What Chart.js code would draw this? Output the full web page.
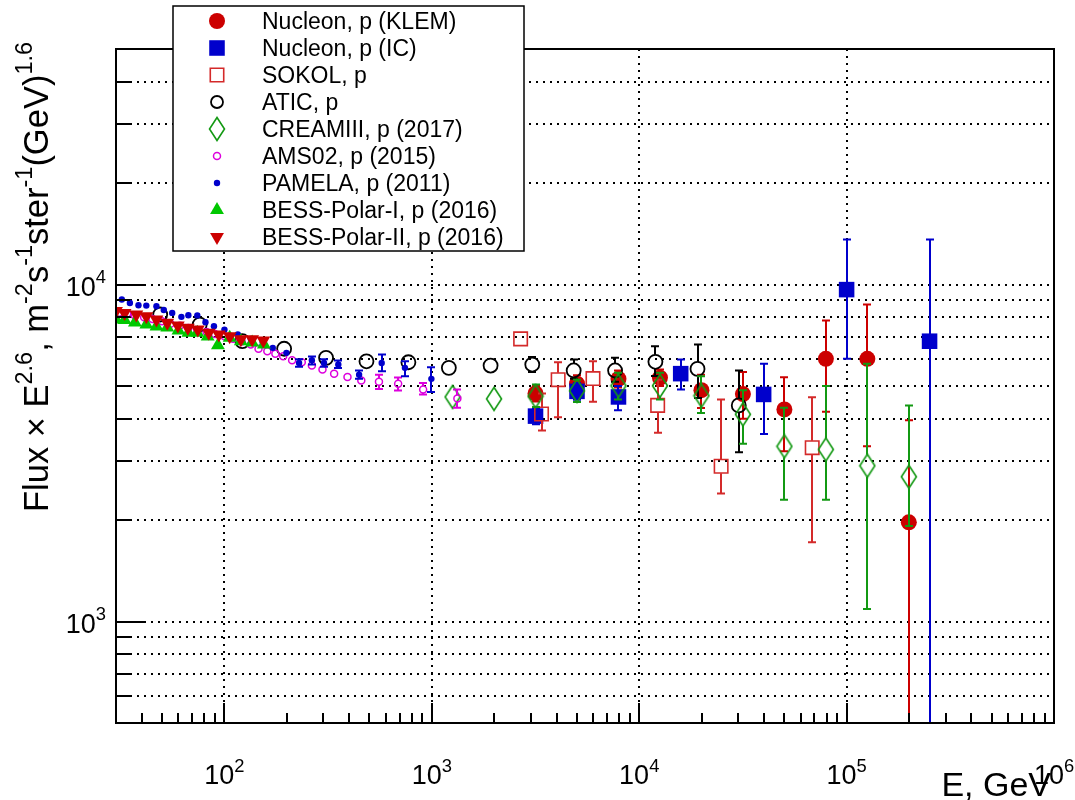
<!DOCTYPE html>
<html>
<head>
<meta charset="utf-8">
<title>Proton spectrum</title>
<script src="https://cdn.jsdelivr.net/npm/chart.js@4.4.1/dist/chart.umd.min.js"></script>
<style>
    html, body { margin: 0; padding: 0; background: #fff; }
    #wrap { width: 1075px; height: 800px; }
</style>
</head>
<body>
<div id="wrap"><canvas id="chart" width="1075" height="800"></canvas></div>
<script>
// ========== 数据 (E in GeV, Flux x E^2.6) ==========
const klemE  = [3162, 5012, 7943, 12589, 19953, 31623, 50119, 79433, 125893, 199526];
const klemF  = [4750, 5080, 5250, 5290, 4860, 4730, 4260, 6020, 6020, 1970];
const klemLo = [4500, 4800, 4950, 5000, 4300, 4000, 3200, 4190, 3310, 300];
const klemHi = [5000, 5380, 5560, 5600, 5400, 5500, 5310, 7820, 8720, 3955];

const icE  = [3162, 5012, 7943, 15849, 39811, 100000, 251189];
const icF  = [4070, 4820, 4640, 5440, 4720, 9660, 6790];
const icLo = [3850, 4550, 4240, 4880, 3600, 6020, 300];
const icHi = [4300, 5100, 5000, 5990, 5820, 13600, 13600];

const sokolE  = [2680, 3380, 4065, 5985, 12270, 24830, 68250];
const sokolF  = [6900, 4130, 5220, 5260, 4380, 2890, 3280];
const sokolLo = [null, 3690, 4040, 4490, 3630, 2400, 1720];
const sokolHi = [null, 4750, 5880, 5920, 5220, 4560, 4630];

const aticE  = [49, 76, 122, 194, 309, 484, 771, 1208, 1920, 3050, 4830, 7650, 11970, 19100, 30200];
const aticF  = [8150, 7610, 6790, 6450, 6060, 5920, 5880, 5660, 5750, 5790, 5560, 5560, 5900, 5620, 4380];
const aticLo = [null, null, null, null, null, null, null, null, null, 5500, 5250, 5150, 5350, 4610, 3180];
const aticHi = [null, null, null, null, null, null, null, null, null, 6100, 5990, 6060, 6560, 6640, 5560];

const creamE  = [1259, 1995, 3162, 5012, 7943, 12589, 19953, 31623, 50119, 79433, 125893, 199526];
const creamF  = [4640, 4580, 4660, 4840, 5010, 5010, 4680, 4120, 3310, 3240, 2900, 2690];
const creamLo = [null, null, 4330, 4480, 4560, 4560, 4160, 3370, 2300, 2300, 1090, 1920];
const creamHi = [null, null, 5050, 5220, 5470, 5470, 5340, 4860, 4310, 5000, 5820, 4380];

const amsE  = [31, 34, 37, 41, 45, 50, 55, 61, 67, 74, 82, 90, 100, 110, 121, 134, 146, 161, 176, 192,
               212, 236, 264, 297, 338, 392, 457, 556, 688, 908, 1328];
const amsF  = [8250, 8200, 8100, 8000, 7900, 7780, 7650, 7550, 7430, 7330, 7230, 7130, 7020, 6900, 6780, 6640, 6450, 6340, 6230, 6130,
               5960, 5880, 5750, 5600, 5440, 5320, 5190, 5150, 5080, 4880, 4590];
const amsLo = [null, null, null, null, null, null, null, null, null, null, null, null, null, null, null, null, null, null, null, null,
               null, null, null, null, null, null, null, 4900, 4850, 4720, 4310];
const amsHi = [null, null, null, null, null, null, null, null, null, null, null, null, null, null, null, null, null, null, null, null,
               null, null, null, null, null, null, null, 5400, 5300, 5100, 4880];

const pamelaE  = [32, 35, 38.5, 42, 47, 51, 56, 62, 67, 74, 81, 89, 100, 116, 134, 153, 171, 199, 229, 264, 302, 354, 446, 573, 742, 995];
const pamelaF  = [9030, 8820, 8680, 8660, 8620, 8400, 8240, 8020, 8110, 8100, 7730, 7520, 7350, 7110, 6900, 6740, 6490, 6270,
                  5850, 5960, 5850, 5790, 5400, 5850, 5660, 5250];
const pamelaLo = [null, null, null, null, null, null, null, null, null, null, null, null, null, null, null, null, null, null,
                  5700, 5790, 5700, 5650, 5250, 5530, 5340, 4800];
const pamelaHi = [null, null, null, null, null, null, null, null, null, null, null, null, null, null, null, null, null, null,
                  6000, 6120, 6000, 5950, 5560, 6200, 5920, 5680];

const bess1E = [30, 33, 37, 42, 47, 53, 60, 67, 74, 83, 93, 106, 120, 136, 155];
const bess1F = [7870, 7850, 7710, 7610, 7510, 7460, 7300, 7200, 7200, 7010, 6600, 6950, 6790, 6730, 6640];

const bess2E = [30, 33, 37.6, 42, 47, 53, 59.6, 66.6, 74.4, 84, 94, 106, 120, 136, 154];
const bess2F = [8340, 8240, 8150, 8050, 7870, 7700, 7560, 7440, 7350, 7190, 7110, 7020, 6880, 6880, 6820];

const seriesNames = [
    'Nucleon, p (KLEM)', 'Nucleon, p (IC)', 'SOKOL, p', 'ATIC, p', 'CREAMIII, p (2017)',
    'AMS02, p (2015)', 'PAMELA, p (2011)', 'BESS-Polar-I, p (2016)', 'BESS-Polar-II, p (2016)'
];
const xDecades = [2, 3, 4, 5, 6];
const yDecades = [3, 4];

const FONT = '"Liberation Sans", Arial, Helvetica, sans-serif';

// ========== 菱形标记 (CREAM) ==========
function makeDiamond(color) {
    const c = document.createElement('canvas');
    c.width = 18; c.height = 26;
    const g = c.getContext('2d');
    g.strokeStyle = color;
    g.lineWidth = 1.6;
    g.beginPath();
    g.moveTo(9, 1.5); g.lineTo(16.5, 13); g.lineTo(9, 24.5); g.lineTo(1.5, 13);
    g.closePath();
    g.stroke();
    return c;
}
const diamond = makeDiamond('#139913');

function pts(xs, ys) {
    return xs.map((x, i) => ({ x: x, y: ys[i] }));
}

// ========== 富文本 (上标) ==========
function drawRich(ctx, parts, x, y, size, align) {
    let w = 0;
    parts.forEach(p => {
        ctx.font = (p[1] ? size * 0.68 : size) + 'px ' + FONT;
        w += ctx.measureText(p[0]).width;
    });
    let cx = align === 'right' ? x - w : align === 'center' ? x - w / 2 : x;
    ctx.textAlign = 'left';
    ctx.textBaseline = 'alphabetic';
    parts.forEach(p => {
        ctx.font = (p[1] ? size * 0.68 : size) + 'px ' + FONT;
        ctx.fillText(p[0], cx, p[1] ? y - size * 0.45 : y);
        cx += ctx.measureText(p[0]).width;
    });
}

// ========== 误差棒 ==========
const errorBars = {
    id: 'errorBars',
    beforeDatasetDraw(chart, args) {
        const ds = chart.data.datasets[args.index];
        if (!ds.errLo) return;
        const { ctx, chartArea: a, scales: { x, y } } = chart;
        ctx.save();
        ctx.beginPath();
        ctx.rect(a.left, a.top, a.right - a.left, a.bottom - a.top);
        ctx.clip();
        ctx.strokeStyle = ds.errColor;
        ctx.lineWidth = 2;
        ds.data.forEach((p, i) => {
            const lo = ds.errLo[i], hi = ds.errHi[i];
            if (lo == null) return;
            const px = Math.round(x.getPixelForValue(p.x));
            const py = y.getPixelForValue(p.y);
            const pl = y.getPixelForValue(lo);
            const ph = y.getPixelForValue(hi);
            const g = ds.errGap || 0;
            ctx.beginPath();
            if (ph < py - g) { ctx.moveTo(px, ph); ctx.lineTo(px, py - g); }
            if (pl > py + g) { ctx.moveTo(px, py + g); ctx.lineTo(px, pl); }
            ctx.moveTo(px - 4, ph); ctx.lineTo(px + 4, ph);
            ctx.moveTo(px - 4, pl); ctx.lineTo(px + 4, pl);
            ctx.stroke();
        });
        ctx.restore();
    }
};

// ========== 网格、边框、刻度、标题、图例 ==========
const rootFrame = {
    id: 'rootFrame',
    beforeDatasetsDraw(chart) {
        const { ctx, chartArea: a, scales: { x, y } } = chart;
        ctx.save();
        ctx.strokeStyle = '#000';
        ctx.lineWidth = 2;
        ctx.setLineDash([2, 5]);
        xDecades.slice(0, -1).forEach(d => {
            const px = Math.round(x.getPixelForValue(Math.pow(10, d)));
            ctx.beginPath(); ctx.moveTo(px, a.top); ctx.lineTo(px, a.bottom); ctx.stroke();
        });
        for (let d = 2; d <= 4; d++) {
            for (let k = 1; k <= 9; k++) {
                const v = k * Math.pow(10, d);
                if (v <= y.min || v >= y.max) continue;
                const py = Math.round(y.getPixelForValue(v));
                ctx.beginPath(); ctx.moveTo(a.left, py); ctx.lineTo(a.right, py); ctx.stroke();
            }
        }
        ctx.restore();
    },
    afterDraw(chart) {
        const { ctx, chartArea: a, scales: { x, y } } = chart;
        ctx.save();
        ctx.strokeStyle = '#000';
        ctx.lineWidth = 2;
        ctx.setLineDash([]);
        // 刻度
        ctx.beginPath();
        for (let d = 1; d <= 5; d++) {
            for (let k = 1; k <= 9; k++) {
                const v = k * Math.pow(10, d);
                if (v <= x.min || v >= x.max) continue;
                const px = Math.round(x.getPixelForValue(v));
                ctx.moveTo(px, a.bottom); ctx.lineTo(px, a.bottom - (k === 1 ? 20 : 10));
            }
        }
        for (let d = 2; d <= 4; d++) {
            for (let k = 1; k <= 9; k++) {
                const v = k * Math.pow(10, d);
                if (v <= y.min || v >= y.max) continue;
                const py = Math.round(y.getPixelForValue(v));
                ctx.moveTo(a.left, py); ctx.lineTo(a.left + (k === 1 ? 28 : 14), py);
            }
        }
        ctx.stroke();
        // 边框
        ctx.strokeRect(a.left, a.top, a.right - a.left, a.bottom - a.top);

        // 刻度标签
        ctx.fillStyle = '#000';
        xDecades.forEach(d => {
            const px = x.getPixelForValue(Math.pow(10, d));
            drawRich(ctx, [['10', false], [String(d), true]], px, a.bottom + 61, 27, 'center');
        });
        yDecades.forEach(d => {
            const py = y.getPixelForValue(Math.pow(10, d));
            drawRich(ctx, [['10', false], [String(d), true]], a.left - 10, py + 11, 27, 'right');
        });

        // 轴标题
        drawRich(ctx, [['E, GeV', false]], a.right - 3, 796, 34, 'right');
        ctx.save();
        ctx.translate(48, 42);
        ctx.rotate(-Math.PI / 2);
        drawRich(ctx, [
            ['Flux \u00d7 E', false], ['2.6', true], [', m', false], ['-2', true], ['s', false], ['-1', true],
            ['ster', false], ['-1', true], ['(GeV)', false], ['1.6', true]
        ], 0, 0, 34.5, 'right');
        ctx.restore();

        // 图例
        const lx = 173, ly = 6, lw = 351, lh = 245;
        ctx.fillStyle = '#fff';
        ctx.fillRect(lx, ly, lw, lh);
        ctx.lineWidth = 1.5;
        ctx.strokeRect(lx, ly, lw, lh);
        chart.data.datasets.forEach((ds, i) => {
            const cy = 21 + i * 27;
            const st = ds.pointStyle;
            if (st instanceof HTMLCanvasElement) {
                ctx.drawImage(st, 217 - st.width / 2, cy - st.height / 2);
            } else {
                ctx.fillStyle = ds.backgroundColor;
                ctx.strokeStyle = ds.borderColor;
                ctx.lineWidth = ds.borderWidth;
                Chart.helpers.drawPoint(ctx, {
                    pointStyle: st, radius: ds.legendRadius || ds.pointRadius,
                    rotation: ds.pointRotation || 0, borderWidth: ds.borderWidth
                }, 217, cy);
            }
            ctx.fillStyle = '#000';
            drawRich(ctx, [[seriesNames[i], false]], 262, cy + 8, 23, 'left');
        });
        ctx.restore();
    }
};

const clear = 'rgba(0,0,0,0)';

new Chart(document.getElementById('chart'), {
    type: 'scatter',
    data: {
        datasets: [
            { data: pts(klemE, klemF), errLo: klemLo, errHi: klemHi, errColor: '#cc0000',
              pointStyle: 'circle', pointRadius: 8, backgroundColor: '#cc0000', borderColor: '#cc0000', borderWidth: 0, order: 9 },
            { data: pts(icE, icF), errLo: icLo, errHi: icHi, errColor: '#0000cc',
              pointStyle: 'rect', pointRadius: 11, backgroundColor: '#0000cc', borderColor: '#0000cc', borderWidth: 0, order: 8 },
            { data: pts(sokolE, sokolF), errLo: sokolLo, errHi: sokolHi, errColor: '#d42a2a', errGap: 7,
              pointStyle: 'rect', pointRadius: 9.5, backgroundColor: clear, borderColor: '#d42a2a', borderWidth: 1.6, order: 7 },
            { data: pts(aticE, aticF), errLo: aticLo, errHi: aticHi, errColor: '#000000', errGap: 7,
              pointStyle: 'circle', pointRadius: 7, backgroundColor: clear, borderColor: '#000000', borderWidth: 1.8,
              legendRadius: 6, order: 6 },
            { data: pts(creamE, creamF), errLo: creamLo, errHi: creamHi, errColor: '#139913', errGap: 11,
              pointStyle: diamond, pointRadius: 9, order: 5 },
            { data: pts(amsE, amsF), errLo: amsLo, errHi: amsHi, errColor: '#dd00dd', errGap: 3.5,
              pointStyle: 'circle', pointRadius: 3.5, backgroundColor: clear, borderColor: '#dd00dd', borderWidth: 1.5, order: 4 },
            { data: pts(pamelaE, pamelaF), errLo: pamelaLo, errHi: pamelaHi, errColor: '#0000cc',
              pointStyle: 'circle', pointRadius: 3.2, backgroundColor: '#0000cc', borderColor: '#0000cc', borderWidth: 0, order: 3 },
            { data: pts(bess1E, bess1F),
              pointStyle: 'triangle', pointRadius: 8, backgroundColor: '#00c800', borderColor: '#00c800', borderWidth: 0, order: 2 },
            { data: pts(bess2E, bess2F),
              pointStyle: 'triangle', pointRadius: 8, pointRotation: 180, backgroundColor: '#cc0000', borderColor: '#cc0000', borderWidth: 0, order: 1 }
        ]
    },
    options: {
        responsive: false,
        animation: false,
        events: [],
        layout: { padding: { top: 49, right: 21, left: 0, bottom: 0 } },
        plugins: { legend: { display: false }, tooltip: { enabled: false } },
        scales: {
            x: {
                type: 'logarithmic', min: 30, max: 1e6,
                grid: { display: false }, border: { display: false }, ticks: { display: false },
                afterFit(s) { s.height = 77; }
            },
            y: {
                type: 'logarithmic', min: 500, max: 50000,
                grid: { display: false }, border: { display: false }, ticks: { display: false },
                afterFit(s) { s.width = 116; }
            }
        }
    },
    plugins: [errorBars, rootFrame]
});
</script>
</body>
</html>
